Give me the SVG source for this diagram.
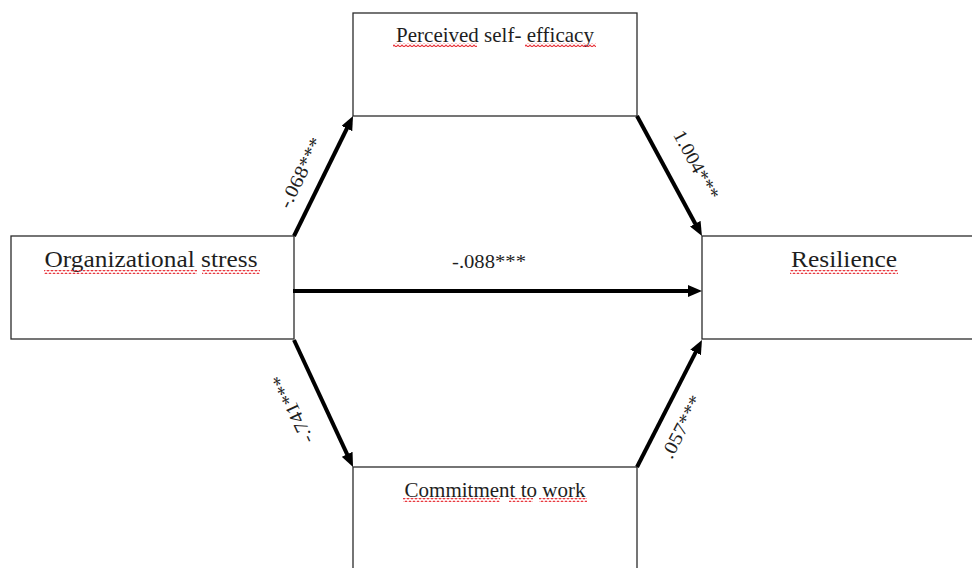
<svg xmlns="http://www.w3.org/2000/svg" width="972" height="568" viewBox="0 0 972 568">
  <style>
    .box { fill: #ffffff; stroke: #2b2b2b; stroke-width: 1.3; }
    .label { font-family: "Liberation Serif", "Times New Roman", serif; fill: #1e1e1e; text-anchor: middle; }
    .node-label { font-size: 23px; }
    .small-label { font-size: 21px; }
    .coef { font-size: 19px; }
    .edge { stroke: #000000; stroke-width: 4; fill: none; marker-end: url(#arrow); }
    .squiggle { fill: url(#wave); }
  </style>
  <defs>
    <marker id="arrow" viewBox="0 0 14 12" markerWidth="14" markerHeight="12" markerUnits="userSpaceOnUse" refX="4" refY="6" orient="auto">
      <path d="M0,0 L14,6 L0,12 z" fill="#000000"/>
    </marker>
    <!-- red wavy spell-check underline -->
    <pattern id="wave" width="4" height="4" patternUnits="userSpaceOnUse">
      <path d="M-1,1.5 L0,3 L2,1 L4,3 L5,1.5" stroke="#e8343a" stroke-width="1.2" fill="none"/>
    </pattern>
  </defs>

  <g id="node-self-efficacy">
    <rect class="box" x="353" y="13" width="284" height="103"/>
    <text class="label small-label" x="495" y="42">Perceived self- efficacy</text>
    <rect class="squiggle" x="393" y="43" width="84" height="4"/>
    <rect class="squiggle" x="525" y="43" width="71" height="4"/>
  </g>

  <g id="node-org-stress">
    <rect class="box" x="11" y="236" width="283" height="103"/>
    <text class="label node-label" x="151" y="267" textLength="213" lengthAdjust="spacingAndGlyphs">Organizational stress</text>
    <rect class="squiggle" x="44" y="270" width="153" height="4"/>
    <rect class="squiggle" x="202" y="270" width="58" height="4"/>
  </g>

  <g id="node-resilience">
    <rect class="box" x="702" y="236" width="290" height="103"/>
    <text class="label node-label" x="844" y="267" textLength="106" lengthAdjust="spacingAndGlyphs">Resilience</text>
    <rect class="squiggle" x="790" y="270" width="108" height="4"/>
  </g>

  <g id="node-commitment">
    <rect class="box" x="353" y="467" width="284" height="130"/>
    <text class="label small-label" x="495" y="497">Commitment to work</text>
    <rect class="squiggle" x="403" y="498" width="97" height="4"/>
    <rect class="squiggle" x="509" y="498" width="24" height="4"/>
    <rect class="squiggle" x="539" y="498" width="48" height="4"/>
  </g>

  <g id="connectors">
    <line class="edge" x1="294" y1="236" x2="348.6" y2="125.0"/>
    <line class="edge" x1="637" y1="116" x2="697.2" y2="227.2"/>
    <line class="edge" x1="293" y1="291" x2="692" y2="291"/>
    <line class="edge" x1="294" y1="340" x2="348.8" y2="457.9"/>
    <line class="edge" x1="637" y1="467" x2="697.4" y2="348.9"/>

    <text class="label coef" transform="translate(301,173) rotate(-63.8)" x="0" y="6" textLength="76" lengthAdjust="spacingAndGlyphs">-.068***</text>
    <text class="label coef" transform="translate(696,165) rotate(61.6)" x="0" y="6" textLength="76" lengthAdjust="spacingAndGlyphs">1.004***</text>
    <text class="label coef" x="489" y="268" textLength="74" lengthAdjust="spacingAndGlyphs">-.088***</text>
    <text class="label coef" transform="translate(293,409) rotate(-114.9)" x="0" y="6" textLength="74" lengthAdjust="spacingAndGlyphs">-.741***</text>
    <text class="label coef" transform="translate(682,427) rotate(-62.9)" x="0" y="6" textLength="68" lengthAdjust="spacingAndGlyphs">.057***</text>
  </g>
</svg>
